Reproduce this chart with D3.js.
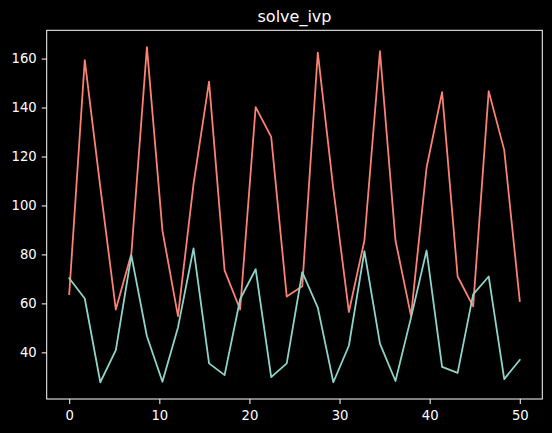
<!DOCTYPE html>
<html>
<head>
<meta charset="utf-8">
<script src="https://cdn.jsdelivr.net/npm/d3@7"></script>
<style>
  html, body { margin: 0; padding: 0; background: #000; }
  svg { display: block; }
</style>
</head>
<body>
<svg id="chart" width="552" height="433"></svg>
<script>
const title = "solve_ivp";
const nPoints = 30;
const tStart = 0;
const tEnd = 50;
const seriesRed = [63.8, 159.4, 107.5, 57.5, 80.3, 164.7, 89.7, 54.8, 108.7, 150.6,
                   73.5, 57.5, 140.2, 128.0, 62.8, 67.0, 162.4, 106.8, 56.5, 85.7,
                   163.0, 85.7, 54.9, 115.4, 146.3, 71.0, 58.8, 146.7, 122.6, 61.0];
const seriesTeal = [70.3, 62.0, 27.8, 40.9, 79.6, 46.6, 28.0, 50.2, 82.5, 35.5,
                    30.7, 61.7, 74.0, 29.9, 35.5, 72.8, 58.3, 27.8, 42.7, 81.3,
                    43.6, 28.3, 54.2, 81.6, 34.1, 31.6, 63.7, 71.0, 29.1, 36.9];
const xTicks = [0, 10, 20, 30, 40, 50];
const yTicks = [40, 60, 80, 100, 120, 140, 160];

// time points (evenly spaced sample times of the solver output)
const tValues = d3.range(nPoints).map(i => tStart + i * (tEnd - tStart) / (nPoints - 1));

const svg = d3.select("#chart");
const L = 46.7, R = 542.3, T = 30.3, B = 399;

const xPad = (tEnd - tStart) * 0.05;
const x = d3.scaleLinear().domain([tStart - xPad, tEnd + xPad]).range([L, R]);
const all = seriesRed.concat(seriesTeal);
const [yMin, yMax] = d3.extent(all);
const yPad = (yMax - yMin) * 0.05;
const y = d3.scaleLinear().domain([yMin - yPad, yMax + yPad]).range([B, T]);

svg.append("rect").attr("x", 0).attr("y", 0).attr("width", 552).attr("height", 433).attr("fill", "#000");

const line = d3.line().x((d, i) => x(tValues[i])).y(d => y(d));

const g = svg.append("g");
g.append("path").datum(seriesRed).attr("d", line)
  .attr("fill", "none").attr("stroke", "#fa8174").attr("stroke-width", 1.8)
  .attr("stroke-linejoin", "round").attr("stroke-linecap", "square");
g.append("path").datum(seriesTeal).attr("d", line)
  .attr("fill", "none").attr("stroke", "#8dd3c7").attr("stroke-width", 1.8)
  .attr("stroke-linejoin", "round").attr("stroke-linecap", "square");

// frame
svg.append("rect").attr("x", L).attr("y", T).attr("width", R - L).attr("height", B - T)
  .attr("fill", "none").attr("stroke", "#fff").attr("stroke-width", 1);

const font = "'DejaVu Sans', sans-serif";

const xAxis = svg.append("g").attr("transform", `translate(0,${B})`)
  .call(d3.axisBottom(x).tickValues(xTicks).tickSize(5).tickPadding(7).tickFormat(d3.format("d")));
const yAxis = svg.append("g").attr("transform", `translate(${L},0)`)
  .call(d3.axisLeft(y).tickValues(yTicks).tickSize(5).tickPadding(5).tickFormat(d3.format("d")));

[xAxis, yAxis].forEach(a => {
  a.select(".domain").remove();
  a.selectAll(".tick line").attr("stroke", "#fff").attr("stroke-width", 1);
  a.selectAll(".tick text").attr("fill", "#fff").style("font-family", font).style("font-size", "13.2px");
});

svg.append("text").attr("x", (L + R) / 2).attr("y", T - 8)
  .attr("text-anchor", "middle").attr("fill", "#fff")
  .style("font-family", font).style("font-size", "16px")
  .text(title);
</script>
</body>
</html>
